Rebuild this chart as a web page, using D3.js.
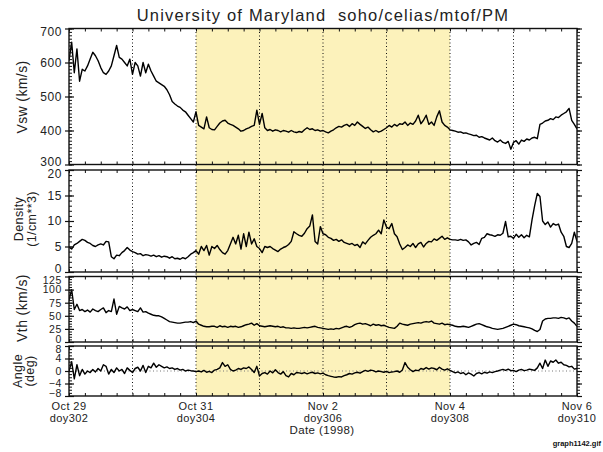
<!DOCTYPE html>
<html>
<head>
<meta charset="utf-8">
<script src="https://cdn.jsdelivr.net/npm/d3@7"></script>
<style>
  html, body { margin: 0; padding: 0; background: #fff; }
  svg { display: block; }
</style>
</head>
<body>
<svg id="chart" width="603" height="452"></svg>
<script>
// --- data (hourly samples starting Oct 29 00:00 = doy 302) ---
const DAY_TICKS = [302, 304, 306, 308, 310];
const DATE_LABELS = ["Oct 29", "Oct 31", "Nov 2", "Nov 4", "Nov 6"];
const DOY_LABELS = ["doy302", "doy304", "doy306", "doy308", "doy310"];
const SHADE_DAYS = [304, 308];

const VSW = [
  605, 660, 570, 640, 545, 580, 575, 590, 610, 630, 620, 605, 585, 570, 565, 575, 590, 620, 650, 615,
  610, 600, 590, 610, 565, 600, 590, 560, 600, 570, 595, 575, 560, 545, 540, 535, 530, 520, 505, 485,
  478, 472, 468, 460, 455, 445, 435, 425, 455, 415, 410, 405, 440, 408, 403, 402, 412, 422, 428, 430,
  422, 418, 415, 410, 405, 398, 400, 405, 408, 412, 415, 460, 418, 450, 408, 400, 403, 398, 402, 400,
  396, 400, 398, 395, 400, 396, 394, 397, 395, 402, 408, 403, 405, 400, 402, 398, 400, 396, 393, 398,
  402, 408, 412, 410, 415, 418, 412, 420, 415, 425, 418, 412, 406, 410, 402, 396, 400, 395, 398, 403,
  408, 415, 410, 418, 413, 420, 418, 425, 415, 422, 418, 428, 445, 420, 430, 445, 418, 425, 415, 440,
  458, 425, 415, 410, 402, 400, 398, 395, 396, 392, 393, 390, 388, 385, 386, 380, 382, 378, 375, 372,
  378, 370, 366, 372, 365, 362, 368, 345, 365, 370, 360, 372, 368, 375, 372, 378, 380, 376, 418, 422,
  428, 430, 435, 432, 440, 438, 445, 450, 455, 465, 430, 418, 405
];

const DENSITY = [
  4.9, 4.5, 5.3, 5.6, 6.0, 6.4, 6.2, 5.8, 5.6, 5.2, 5.0, 5.3, 5.5, 5.3, 6.0, 5.9, 3.0, 2.6, 3.3, 3.2,
  3.8, 4.2, 4.8, 4.3, 4.0, 3.8, 3.5, 3.6, 3.2, 3.4, 3.3, 3.1, 3.3, 3.0, 3.2, 2.9, 3.1, 3.0, 2.7, 3.0,
  2.6, 2.7, 2.5, 2.8, 2.6, 3.0, 3.5, 3.8, 4.2, 3.5, 5.0, 4.2, 5.2, 3.3, 5.0, 4.6, 5.2, 4.4, 3.8, 3.5,
  4.2, 5.5, 6.8, 5.5, 7.2, 4.5, 7.5, 5.0, 7.8, 5.5, 6.5, 5.0, 4.6, 3.8, 5.0, 4.8, 5.0, 4.6, 4.3, 4.0,
  4.5, 4.8, 5.0, 5.4, 6.0, 7.9, 7.5, 7.2, 7.0, 7.6, 8.5, 9.0, 11.2, 6.0, 5.5, 8.9, 7.5, 7.3, 6.8, 6.6,
  6.2, 6.4, 6.0, 6.3, 5.8, 5.6, 5.4, 5.6, 5.2, 5.4, 4.8, 5.9, 5.5, 6.2, 6.8, 7.2, 7.5, 8.2, 7.5, 10.2,
  8.8, 8.5, 9.5, 7.5, 6.9, 5.5, 4.4, 4.8, 5.3, 5.0, 5.6, 4.8, 5.5, 5.8, 4.9, 5.6, 6.0, 5.9, 6.5, 6.2,
  6.6, 7.0, 6.4, 6.7, 6.4, 6.3, 6.3, 6.2, 6.4, 6.2, 6.3, 5.9, 5.3, 5.6, 5.8, 5.4, 6.6, 6.8, 7.5, 7.3,
  7.2, 7.0, 7.3, 7.2, 7.6, 9.9, 6.9, 7.0, 6.6, 7.4, 6.8, 7.3, 6.7, 7.2, 6.9, 10.2, 13.0, 15.4, 14.8, 10.0,
  9.3, 9.8, 8.8, 9.5, 9.2, 9.4, 7.8, 7.0, 5.0, 4.8, 5.6, 7.8, 6.0
];

const VTH = [
  80, 100, 62, 72, 60, 62, 58, 61, 57, 63, 60, 58, 62, 65, 56, 60, 58, 82, 53, 68,
  65, 63, 67, 60, 62, 60, 58, 65, 57, 58, 55, 53, 51, 50, 50, 48, 45, 42, 39, 38,
  37, 36, 36, 37, 38, 38, 39, 37, 40, 34, 32, 30, 29, 29, 30, 30, 28, 31, 29, 30,
  28, 30, 29, 30, 28, 29, 31, 33, 34, 36, 32, 35, 31, 30, 29, 30, 31, 30, 29, 30,
  28, 29, 27, 27, 26, 27, 26, 26, 27, 28, 27, 28, 29, 30, 28, 27, 26, 25, 24, 25,
  24, 26, 25, 27, 29, 30, 28, 30, 33, 35, 36, 34, 35, 33, 31, 34, 32, 33, 31, 32,
  30, 28, 27, 26, 30, 36, 34, 33, 32, 34, 35, 36, 37, 36, 38, 39, 38, 40, 36, 35,
  34, 36, 33, 34, 33, 32, 30, 29, 29, 30, 29, 28, 30, 32, 34, 35, 33, 31, 29, 28,
  26, 25, 24, 25, 26, 28, 30, 32, 34, 33, 31, 30, 29, 28, 27, 25, 22, 20, 24, 40,
  44, 45, 45, 46, 46, 45, 47, 46, 44, 46, 40, 36, 30
];

const ANGLE = [
  0, 3, -2.5, 2, -1.5, 0.5, -1, 0, -0.5, 0.5, -0.3, 0.8, 0, 2, 1.5, -1, 0.5, -0.5, 1, 0,
  0.5, -0.8, 1, 0.2, -0.5, 0.8, 1.2, 0, 1.8, -0.5, 1.5, 1, 2.5, 1.2, 2, 1.5, 1, 1.3, 0.8, 1,
  0.5, 0.8, 0.3, 0.5, 0, 0.3, 0.1, 0, -0.2, 0, -0.3, 0.2, -0.4, -0.1, -0.5, 0.3, 0.5, 1, 2.7, 1.5,
  2, 0.5, 0, 0.3, 0.8, 0.5, 1, 0.8, 1.3, 0.5, -0.5, 1.5, -1.6, -0.8, -0.5, -1, 0, -0.6, 0.4, -0.5,
  -1, -0.2, -1.5, -1.9, -0.8, -1.2, -0.5, -0.6, -0.8, -0.5, -0.9, -0.6, -0.4, -0.8, -0.6, -0.9, -0.7, -1.2, -1.5, -1.7,
  -1.9, -2.0, -1.8, -1.9, -1.5, -1.2, -0.8, -1.0, -0.6, -0.4, -0.7, -0.2, 0.2, -0.1, 0.3, 0.1, -0.3, 0, -0.2, -0.4,
  -0.1, -0.5, -0.3, -0.2, 0, -0.4, 0.3, 2.7, 1.2, 0.4, -0.2, 0.3, 0.1, 0.8, 0.5, 1.1, 0.6, 1, 0.8, 0.4,
  1.2, 0.6, 0.3, 0.7, 0.2, -0.2, -0.6, -0.3, -0.8, -0.5, -1.2, -0.6, -1.0, -1.6, -0.8, -0.5, -0.9, -0.4, -0.7, -0.3,
  -0.5, -0.2, 0, 0.3, 0.5, 0.2, 0.6, 0.1, 0.2, -0.2, 0.3, 0.5, 0.1, 0.3, 0.6, 0.4, 0.2, 1, 2.5, 0.8,
  3.5, 1.5, 3.2, 2.8, 3.5, 2.5, 2.8, 2, 1.8, 1.3, 1.5, 0.6, 0.8
];

const VSW_TICKS = [300, 400, 500, 600, 700];
const DENSITY_TICKS = [0, 5, 10, 15, 20];
const VTH_TICKS = [0, 25, 50, 75, 100, 125];
const ANGLE_TICKS = [-8, -4, 0, 4, 8];

// --- layout ---
const W = 603, H = 452;
const X0 = 69, X1 = 577;
const FONT = "Liberation Sans, DejaVu Sans, sans-serif";

const svg = d3.select("#chart");
svg.append("rect").attr("width", W).attr("height", H).attr("fill", "white");

const x = d3.scaleLinear().domain([302, 310]).range([X0, X1]);
const hourDay = (i) => 302 + i / 24;

const panels = [
  { id: "vsw", values: VSW, domain: [300, 700], top: 28.5, bottom: 164.5, ticks: VSW_TICKS, minorStep: 10,
    fs: 12, label: ["Vsw (km/s)"], labelX: [22], labelY: 97 },
  { id: "den", values: DENSITY, domain: [0, 20], top: 170, bottom: 272, ticks: DENSITY_TICKS, minorStep: 1,
    fs: 12, label: ["Density", "(1/cm**3)"], labelX: [19, 32], labelY: 219 },
  { id: "vth", values: VTH, domain: [0, 125], top: 276.5, bottom: 342, ticks: VTH_TICKS, minorStep: 5,
    fs: 10.5, label: ["Vth (km/s)"], labelX: [22], labelY: 308 },
  { id: "ang", values: ANGLE, domain: [-8, 8], top: 346, bottom: 396, ticks: ANGLE_TICKS, minorStep: 1,
    fs: 10.5, label: ["Angle", "(deg)"], labelX: [18, 30], labelY: 371 },
];

const TOP = panels[0].top, BOTTOM = panels[panels.length - 1].bottom;

// shaded interval
svg.append("rect")
  .attr("x", x(SHADE_DAYS[0]))
  .attr("y", TOP)
  .attr("width", x(SHADE_DAYS[1]) - x(SHADE_DAYS[0]))
  .attr("height", BOTTOM - TOP)
  .attr("fill", "#fcf2bb");

// dotted day lines
const dayLines = d3.range(303, 310);
svg.append("g").selectAll("line").data(dayLines).join("line")
  .attr("x1", (d) => x(d)).attr("x2", (d) => x(d))
  .attr("y1", TOP).attr("y2", BOTTOM)
  .attr("stroke", "#111").attr("stroke-width", 1).attr("stroke-dasharray", "1,2.5");

const defs = svg.append("defs");

panels.forEach((p) => {
  const y = d3.scaleLinear().domain(p.domain).range([p.bottom, p.top]);
  const g = svg.append("g");

  defs.append("clipPath").attr("id", "clip-" + p.id)
    .append("rect").attr("x", X0).attr("y", p.top).attr("width", X1 - X0).attr("height", p.bottom - p.top);

  if (p.id === "ang") {
    g.append("line")
      .attr("x1", X0).attr("x2", X1).attr("y1", y(0)).attr("y2", y(0))
      .attr("stroke", "#777").attr("stroke-width", 1).attr("stroke-dasharray", "1,2.5");
  }

  const line = d3.line().x((d, i) => x(hourDay(i))).y((d) => y(d));
  g.append("path")
    .datum(p.values)
    .attr("clip-path", `url(#clip-${p.id})`)
    .attr("d", line)
    .attr("fill", "none")
    .attr("stroke", "#000")
    .attr("stroke-width", 1.4)
    .attr("stroke-linejoin", "round");

  // box
  g.append("rect")
    .attr("x", X0).attr("y", p.top).attr("width", X1 - X0).attr("height", p.bottom - p.top)
    .attr("fill", "none").attr("stroke", "#111").attr("stroke-width", 1.4);

  const minor = d3.range(p.domain[0], p.domain[1] + 1e-9, p.minorStep);
  const lo = p.ticks[0], hi = p.ticks[p.ticks.length - 1];

  // left axis: labels + outward major ticks
  g.append("g")
    .attr("transform", `translate(${X0},0)`)
    .call(d3.axisLeft(y).tickValues(p.ticks).tickSize(4).tickPadding(3))
    .call((a) => a.select(".domain").remove())
    .call((a) => a.selectAll("line").attr("stroke", "#111").attr("stroke-width", 1.2))
    .call((a) => a.selectAll("text")
      .attr("font-family", FONT).attr("font-size", p.fs).attr("fill", "#222")
      .attr("letter-spacing", 0.6)
      .attr("y", (d) => (d === lo ? -3 : d === hi ? 3.5 : 0)));

  // left axis: inner ticks
  g.append("g")
    .attr("transform", `translate(${X0},0)`)
    .call(d3.axisRight(y).tickValues(minor).tickSize(3).tickFormat(""))
    .call((a) => a.select(".domain").remove())
    .call((a) => a.selectAll("line").attr("stroke", "#111").attr("stroke-width", 1));
  g.append("g")
    .attr("transform", `translate(${X0},0)`)
    .call(d3.axisRight(y).tickValues(p.ticks).tickSize(5).tickFormat(""))
    .call((a) => a.select(".domain").remove())
    .call((a) => a.selectAll("line").attr("stroke", "#111").attr("stroke-width", 1.2));

  // right axis ticks
  g.append("g")
    .attr("transform", `translate(${X1},0)`)
    .call(d3.axisRight(y).tickValues(minor).tickSize(3).tickFormat(""))
    .call((a) => a.select(".domain").remove())
    .call((a) => a.selectAll("line").attr("stroke", "#111").attr("stroke-width", 1));
  g.append("g")
    .attr("transform", `translate(${X1},0)`)
    .call(d3.axisRight(y).tickValues(p.ticks).tickSize(5).tickFormat(""))
    .call((a) => a.select(".domain").remove())
    .call((a) => a.selectAll("line").attr("stroke", "#111").attr("stroke-width", 1.2));

  // top / bottom 6-hour ticks
  const quarter = d3.range(302, 310.001, 0.25);
  g.append("g")
    .attr("transform", `translate(0,${p.top})`)
    .call(d3.axisBottom(x).tickValues(quarter).tickSize(3).tickFormat(""))
    .call((a) => a.select(".domain").remove())
    .call((a) => a.selectAll("line").attr("stroke", "#111").attr("stroke-width", 1));
  g.append("g")
    .attr("transform", `translate(0,${p.bottom})`)
    .call(d3.axisTop(x).tickValues(quarter).tickSize(3).tickFormat(""))
    .call((a) => a.select(".domain").remove())
    .call((a) => a.selectAll("line").attr("stroke", "#111").attr("stroke-width", 1));

  // y label
  p.label.forEach((t, k) => {
    svg.append("text")
      .attr("transform", `translate(${p.labelX[k]},${p.labelY}) rotate(-90)`)
      .attr("text-anchor", "middle")
      .attr("dominant-baseline", "central")
      .attr("font-family", FONT)
      .attr("font-size", p.label.length > 1 ? 12.5 : 14)
      .attr("letter-spacing", 0.4)
      .attr("fill", "#222")
      .text(t);
  });
});

// x axis date labels
const xl = svg.append("g");
DAY_TICKS.forEach((d, i) => {
  xl.append("text")
    .attr("x", x(d)).attr("y", 410)
    .attr("text-anchor", "middle")
    .attr("font-family", FONT).attr("font-size", 11).attr("letter-spacing", 0.4).attr("fill", "#222")
    .text(DATE_LABELS[i]);
  xl.append("text")
    .attr("x", x(d)).attr("y", 421.5)
    .attr("text-anchor", "middle")
    .attr("font-family", FONT).attr("font-size", 11).attr("letter-spacing", 0.4).attr("fill", "#222")
    .text(DOY_LABELS[i]);
});

svg.append("text")
  .attr("x", 322).attr("y", 434)
  .attr("text-anchor", "middle")
  .attr("font-family", FONT).attr("font-size", 11.5).attr("letter-spacing", 0.4).attr("fill", "#222")
  .text("Date (1998)");

svg.append("text")
  .attr("x", 323).attr("y", 21)
  .attr("text-anchor", "middle")
  .attr("font-family", FONT).attr("font-size", 16.5).attr("fill", "#222")
  .attr("letter-spacing", 1.2)
  .attr("xml:space", "preserve")
  .style("white-space", "pre")
  .text("University of Maryland  soho/celias/mtof/PM");

svg.append("text")
  .attr("x", 601).attr("y", 446)
  .attr("text-anchor", "end")
  .attr("font-family", FONT).attr("font-size", 7.5).attr("font-weight", 700).attr("fill", "#111")
  .text("graph1142.gif");
</script>
</body>
</html>
